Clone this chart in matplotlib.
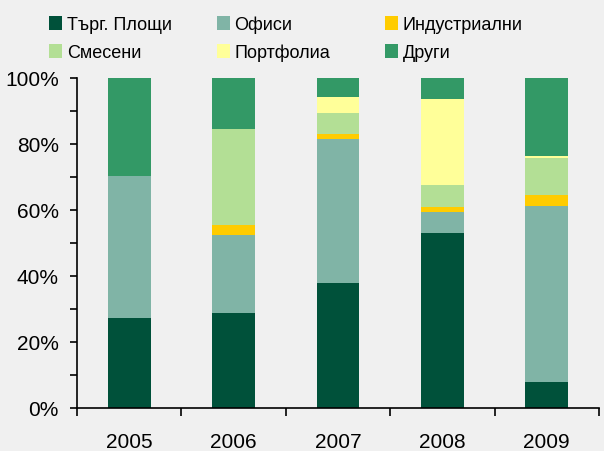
import matplotlib
matplotlib.use("Agg")
import matplotlib.pyplot as plt
from matplotlib.patches import Rectangle
from matplotlib.ticker import FuncFormatter, MultipleLocator, FixedLocator
from matplotlib import font_manager
import numpy as np

plt.rcParams['font.family'] = ['Liberation Sans', 'DejaVu Sans']

years = ["2005", "2006", "2007", "2008", "2009"]
series_names = ["Търг. Площи", "Офиси", "Индустриални", "Смесени", "Портфолиа", "Други"]
targ_ploshti = [27.3, 28.8, 37.9, 53.0, 7.9]
ofisi = [43.1, 23.7, 43.6, 6.4, 53.3]
industrialni = [0.0, 3.0, 1.4, 1.5, 3.4]
smeseni = [0.0, 29.0, 6.5, 6.7, 11.2]
portfolia = [0.0, 0.0, 4.8, 26.0, 0.6]
drugi = [29.6, 15.5, 5.8, 6.4, 23.6]
y_ticks = [0, 20, 40, 60, 80, 100]

colors = ["#00513A", "#80B4A6", "#FFCC00", "#B3DF95", "#FFFF99", "#339966"]
values = [targ_ploshti, ofisi, industrialni, smeseni, portfolia, drugi]

installed = {f.name for f in font_manager.fontManager.ttflist}
legend_family = ['Liberation Sans Narrow', 'DejaVu Sans'] if 'Liberation Sans Narrow' in installed \
    else ['Liberation Sans', 'DejaVu Sans']
legend_size = 15 if 'Liberation Sans Narrow' in installed else 13

W, H = 604, 452
fig = plt.figure(figsize=(W / 100, H / 100), dpi=100)
bg = "#F0F0F0"
fig.patch.set_facecolor(bg)

ax = fig.add_axes([77 / W, (H - 409) / H, (599 - 77) / W, 330 / H])
ax.set_facecolor(bg)

x = np.arange(len(years))
bottom = np.zeros(len(years))
for name, vals, c in zip(series_names, values, colors):
    v = np.array(vals)
    ax.bar(x, v, bottom=bottom, width=0.41, color=c, label=name, linewidth=0)
    bottom += v

ax.set_xlim(-0.5, len(years) - 0.5)
ax.set_ylim(0, 100)

for s in ["top", "right"]:
    ax.spines[s].set_visible(False)
for s in ["left", "bottom"]:
    ax.spines[s].set_linewidth(1.2)
    ax.spines[s].set_color("black")

ax.yaxis.set_major_locator(FixedLocator(y_ticks))
ax.yaxis.set_minor_locator(MultipleLocator(10))
ax.yaxis.set_major_formatter(FuncFormatter(lambda v, p: f"{int(v)}%"))
ax.tick_params(axis="y", which="major", direction="out", length=5, width=1.2,
               labelsize=15, pad=8)
ax.tick_params(axis="y", which="minor", direction="out", length=5, width=1.2)

ax.xaxis.set_major_locator(FixedLocator(np.arange(-0.5, len(years), 1.0)))
ax.xaxis.set_major_formatter(FuncFormatter(lambda v, p: ""))
ax.set_xticks(x, labels=years, minor=True)
ax.tick_params(axis="x", which="major", direction="out", length=6, width=1.2)
ax.tick_params(axis="x", which="minor", length=0, labelsize=15, pad=17)

# Legend drawn manually (row-wise layout)
marker_x = [49, 217, 385]
text_x = [67, 234, 403]
row_y = [23.5, 51.5]
for i, (name, c) in enumerate(zip(series_names, colors)):
    r, col = divmod(i, 3)
    cy = row_y[r]
    fig.add_artist(Rectangle((marker_x[col] / W, (H - cy - 7) / H), 13 / W, 14 / H,
                             transform=fig.transFigure, facecolor=c, edgecolor="none"))
    fig.text(text_x[col] / W, (H - cy) / H, name, fontsize=legend_size, va="center_baseline",
             ha="left", color="black", family=legend_family)

fig.savefig("out.png", dpi=100, facecolor=bg)
